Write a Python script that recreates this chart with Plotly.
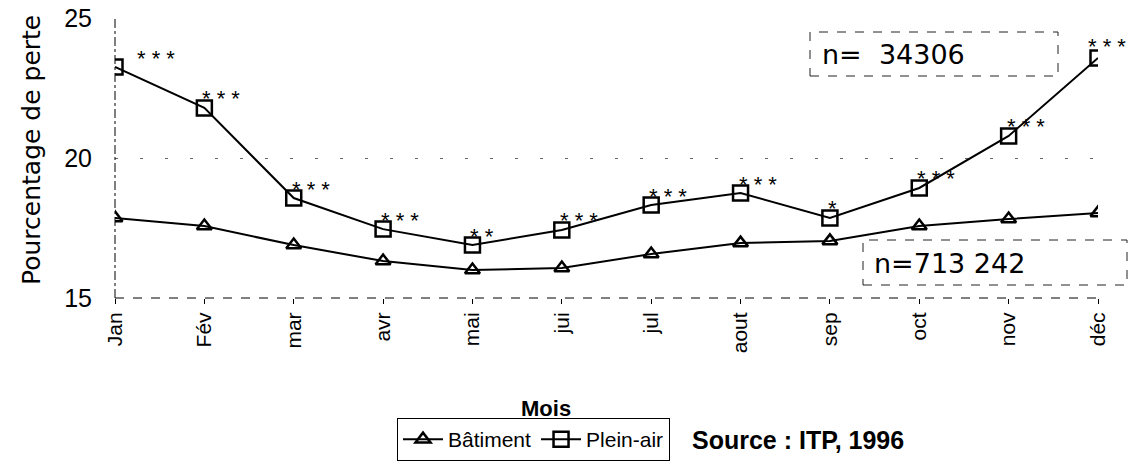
import plotly.graph_objects as go

months = ["Jan", "Fév", "mar", "avr", "mai", "jui", "jul", "aout", "sep", "oct", "nov", "déc"]
batiment = [17.86, 17.57, 16.89, 16.32, 16.0, 16.07, 16.57, 16.96, 17.04, 17.57, 17.82, 18.04]
plein_air = [23.25, 21.79, 18.57, 17.46, 16.89, 17.43, 18.32, 18.75, 17.86, 18.93, 20.79, 23.57]
signif = ["* * *", "* * *", "* * *", "* * *", "* *", "* * *", "* * *", "* * *", "*", "* * *", "* * *", "* * *"]
y_ticks = [15, 20, 25]

FONT = "Liberation Sans, Arial, sans-serif"
WIDE = "DejaVu Sans, Verdana, sans-serif"
NARROW = "Liberation Sans Narrow, Arial Narrow, Liberation Sans, sans-serif"

# plot area in pixels (for paper-coordinate helpers)
L, R, T, B = 115, 1098, 18, 298
def px(x):
    return (x - L) / (R - L)
def py(y):
    return (B - y) / (B - T)

fig = go.Figure()
fig.add_trace(go.Scatter(
    x=months, y=batiment, mode="lines+markers", name="Bâtiment",
    line=dict(color="black", width=2),
    marker=dict(symbol="triangle-up-open", size=13, color="black", line=dict(width=2.5)),
))
fig.add_trace(go.Scatter(
    x=months, y=plein_air, mode="lines+markers", name="Plein-air",
    line=dict(color="black", width=2),
    marker=dict(symbol="square-open", size=15, color="black", line=dict(width=2.5)),
))

n_last = len(months) - 1
for i, (m, v, s) in enumerate(zip(months, plein_air, signif)):
    shift = 20 if i == 0 else (-12 if i == n_last else -4)
    fig.add_annotation(x=m, y=v, text=s, showarrow=False, xanchor="left", yanchor="middle",
                       xshift=shift, yshift=(12 if i == n_last else 9),
                       font=dict(family=FONT, size=22, color="black"))

# n boxes
fig.add_shape(type="rect", xref="paper", yref="paper", x0=px(810), x1=px(1058), y0=py(76), y1=py(32),
              line=dict(color="#222", width=1, dash="dash"))
fig.add_annotation(xref="paper", yref="paper", x=px(820), y=py(55), text="n=  34306", showarrow=False,
                   xanchor="left", yanchor="middle", font=dict(family=WIDE, size=27, color="black"))
fig.add_shape(type="rect", xref="paper", yref="paper", x0=px(863), x1=px(1127), y0=py(285), y1=py(240),
              line=dict(color="#222", width=1, dash="dash"))
fig.add_annotation(xref="paper", yref="paper", x=px(872), y=py(263), text="n=713 242", showarrow=False,
                   xanchor="left", yanchor="middle", font=dict(family=WIDE, size=27, color="black"))

# axis lines (dashed, scanned look)
fig.add_shape(type="line", xref="paper", yref="paper", x0=0, x1=0, y0=0, y1=1,
              line=dict(color="black", width=1, dash="dashdot"))
fig.add_shape(type="line", xref="paper", yref="paper", x0=0, x1=1, y0=0, y1=0,
              line=dict(color="black", width=1, dash="dash"))

# titles and source
fig.add_annotation(xref="paper", yref="paper", x=px(31), y=py(150), text="Pourcentage de perte",
                   textangle=-90, showarrow=False, xanchor="center", yanchor="middle",
                   font=dict(family=WIDE, size=25, color="black"))
fig.add_annotation(xref="paper", yref="paper", x=px(546), y=py(408), text="<b>Mois</b>",
                   showarrow=False, xanchor="center", yanchor="middle",
                   font=dict(family=NARROW, size=22, color="black"))
fig.add_annotation(xref="paper", yref="paper", x=px(690), y=py(440), text="<b>Source : ITP, 1996</b>",
                   showarrow=False, xanchor="left", yanchor="middle",
                   font=dict(family=FONT, size=25, color="black"))

fig.update_layout(
    width=1134, height=470,
    margin=dict(l=L, r=1134 - R, t=T, b=470 - B, autoexpand=False),
    paper_bgcolor="white", plot_bgcolor="white",
    showlegend=True,
    legend=dict(orientation="h", x=px(397), y=py(418), xanchor="left", yanchor="top",
                bordercolor="black", borderwidth=1, font=dict(family=NARROW, size=21, color="black"),
                itemwidth=40, tracegroupgap=0),
    font=dict(family=FONT, color="black"),
)
fig.update_xaxes(
    type="category", range=[0, 11], showgrid=False, showline=False, zeroline=False,
    ticks="outside", ticklen=5, tickcolor="black", tickangle=-90,
    tickfont=dict(family=FONT, size=21, color="black"),
)
fig.update_yaxes(
    range=[15, 25], tickvals=y_ticks, showline=False, zeroline=False,
    showgrid=True, gridcolor="#666", gridwidth=1, griddash="3px,22px",
    tickfont=dict(family=FONT, size=25, color="black"), ticklabelstandoff=22,
)

fig.write_html("out.html", config={"displayModeBar": False},
               post_script="document.body.style.margin='0';")
